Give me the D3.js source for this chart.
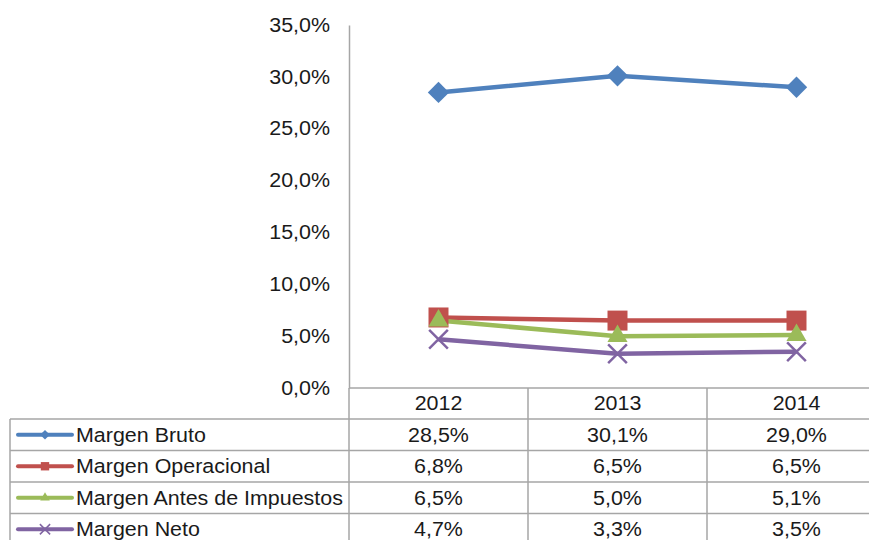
<!DOCTYPE html>
<html>
<head>
<meta charset="utf-8">
<script src="https://cdn.jsdelivr.net/npm/d3@7"></script>
<style>
  body { margin: 0; background: #fff; overflow: hidden; }
  text { font-family: "Liberation Sans", Arial, sans-serif; font-size: 19.5px; fill: #1a1a1a; }
</style>
</head>
<body>
<svg width="869" height="540"></svg>
<script>
// data
const years = ['2012', '2013', '2014'];
const seriesNames = ['Margen Bruto', 'Margen Operacional', 'Margen Antes de Impuestos', 'Margen Neto'];
const bruto = [28.5, 30.1, 29.0];
const operacional = [6.8, 6.5, 6.5];
const antes = [6.5, 5.0, 5.1];
const neto = [4.7, 3.3, 3.5];
const yTicks = [0, 5, 10, 15, 20, 25, 30, 35];

const colors = ['#4F81BD', '#C0504D', '#9BBB59', '#8064A2'];
const symbols = [d3.symbolDiamond2, d3.symbolSquare, d3.symbolTriangle, d3.symbolX];
const markSize = [290, 400, 175, 230];
const keySize = [60, 70, 40, 70];
const series = [bruto, operacional, antes, neto];

const plotLeft = 349;
const plotTop = 25;
const plotBottom = 388;
const colW = 179;
const headH = 31;
const rowH = 31.5;
const tableLeft = 10;
const sx = 1.1; // text is a bit wide in the reference
const gridColor = '#a6a6a6';

const svg = d3.select('svg');

// x
const x = d3.scaleBand()
    .domain(years)
    .range([plotLeft, plotLeft + colW * years.length]);
const cx = d => x(d) + x.bandwidth() / 2;

// y
const y = d3.scaleLinear()
    .domain([0, 35])
    .range([plotBottom, plotTop]);

const fmt = v => d3.format('.1f')(v).replace('.', ',') + '%';

// wide text helper
const addText = (px, py, str, anchor) => svg.append('text')
    .attr('transform', `translate(${px}, ${py}) scale(${sx}, 1)`)
    .attr('dy', '0.35em')
    .attr('text-anchor', anchor)
    .text(str);

// y axis
const yAxis = d3.axisLeft(y)
    .tickValues(yTicks)
    .tickSize(0)
    .tickPadding(19)
    .tickFormat(fmt);

const gy = svg.append('g')
    .attr('transform', `translate(${plotLeft}, 0)`)
    .call(yAxis);
gy.select('.domain').attr('stroke', gridColor).attr('stroke-width', 1.5);
gy.selectAll('text')
    .style('font-size', '19.5px')
    .style('font-family', '"Liberation Sans", Arial, sans-serif')
    .attr('fill', '#1a1a1a')
    .attr('x', -19 / sx)
    .attr('transform', `scale(${sx}, 1)`);

// table grid
const tbl = svg.append('g').attr('stroke', gridColor).attr('stroke-width', 1.5);
const tableRight = x.range()[1];
const rowTop = i => plotBottom + headH + rowH * i;
tbl.append('line')
    .attr('x1', plotLeft).attr('x2', tableRight)
    .attr('y1', plotBottom).attr('y2', plotBottom);
for (let i = 0; i < series.length; ++i) {
    tbl.append('line')
        .attr('x1', tableLeft).attr('x2', tableRight)
        .attr('y1', rowTop(i)).attr('y2', rowTop(i));
}
years.forEach(d => {
    tbl.append('line')
        .attr('x1', x(d)).attr('x2', x(d))
        .attr('y1', plotBottom).attr('y2', 540);
});
tbl.append('line')
    .attr('x1', tableLeft).attr('x2', tableLeft)
    .attr('y1', rowTop(0)).attr('y2', 540);

// header labels
years.forEach(d => addText(cx(d), plotBottom + headH / 2, d, 'middle'));

// lines
const line = d3.line()
    .x((d, i) => cx(years[i]))
    .y(d => y(d));

series.forEach((s, k) => {
    svg.append('path')
        .datum(s)
        .attr('fill', 'none')
        .attr('stroke', colors[k])
        .attr('stroke-width', 4.5)
        .attr('d', line);
});

// markers
const sym = (k, size) => d3.symbol().type(symbols[k]).size(size)();
series.forEach((s, k) => {
    svg.append('g').selectAll('path')
        .data(s)
        .join('path')
        .attr('transform', (d, i) => `translate(${cx(years[i])}, ${y(d)})`)
        .attr('d', sym(k, markSize[k]))
        .attr('fill', k === 3 ? 'none' : colors[k])
        .attr('stroke', k === 3 ? colors[k] : 'none')
        .attr('stroke-width', 2.5);
});

// table rows
series.forEach((s, k) => {
    const cy = rowTop(k) + rowH / 2;
    // legend key
    svg.append('line')
        .attr('x1', 18).attr('x2', 72)
        .attr('y1', cy).attr('y2', cy)
        .attr('stroke', colors[k])
        .attr('stroke-width', 4)
        .attr('stroke-linecap', 'round');
    svg.append('path')
        .attr('transform', `translate(45, ${cy})`)
        .attr('d', sym(k, keySize[k]))
        .attr('fill', k === 3 ? 'none' : colors[k])
        .attr('stroke', k === 3 ? colors[k] : 'none')
        .attr('stroke-width', 1.5);
    addText(76, cy, seriesNames[k], 'start');
    s.forEach((d, i) => addText(cx(years[i]), cy, fmt(d), 'middle'));
});
</script>
</body>
</html>
